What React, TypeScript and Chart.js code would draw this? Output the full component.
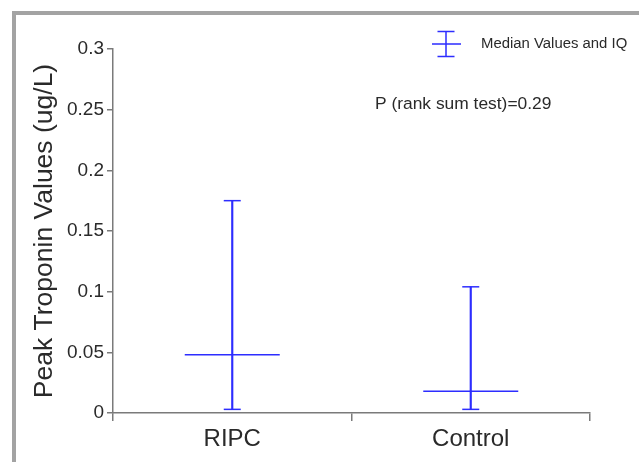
import React, { useEffect, useRef } from "react";
import { Chart, registerables } from "chart.js";

Chart.register(...registerables);

const categories = ["RIPC", "Control"];
const medians = [0.048, 0.018];
const q1Values = [0.003, 0.003];
const q3Values = [0.175, 0.104];
const yTicks = [0, 0.05, 0.1, 0.15, 0.2, 0.25, 0.3];
const legendLabel = "Median Values and IQ";
const pValueText = "P (rank sum test)=0.29";
const yTitle = "Peak Troponin Values (ug/L)";

const BLUE = "rgb(45,45,255)";
const AXIS = "#7a7a7a";
const TEXT = "#2a2a2a";
const FONT = "'Liberation Sans', Arial, Helvetica, sans-serif";

const annotationPlugin = {
  id: "annotations",
  afterDraw(chart: any) {
    const ctx = chart.ctx;
    ctx.save();
    // legend glyph
    ctx.strokeStyle = BLUE;
    ctx.lineWidth = 1.5;
    ctx.beginPath();
    const gx = 446;
    ctx.moveTo(gx, 31.5);
    ctx.lineTo(gx, 56.5);
    ctx.moveTo(gx - 8.5, 31.5);
    ctx.lineTo(gx + 8.5, 31.5);
    ctx.moveTo(gx - 8.5, 56.5);
    ctx.lineTo(gx + 8.5, 56.5);
    ctx.moveTo(gx - 14, 44);
    ctx.lineTo(gx + 15, 44);
    ctx.stroke();
    ctx.fillStyle = TEXT;
    ctx.textBaseline = "middle";
    ctx.textAlign = "left";
    ctx.font = `14.9px ${FONT}`;
    ctx.fillText(legendLabel, 481, 44);
    ctx.font = `17.4px ${FONT}`;
    ctx.fillText(pValueText, 375, 104);
    ctx.restore();
  },
};

export default function App() {
  const canvasRef = useRef<HTMLCanvasElement | null>(null);

  useEffect(() => {
    if (!canvasRef.current) return;
    const chart = new Chart(canvasRef.current, {
      type: "bar",
      data: {
        labels: categories,
        datasets: [
          {
            type: "bar",
            data: q1Values.map((v, i) => [v, q3Values[i]]) as any,
            backgroundColor: BLUE,
            borderWidth: 0,
            barThickness: 1.5,
            grouped: false,
          } as any,
          {
            type: "line",
            data: medians,
            showLine: false,
            pointStyle: "line",
            pointRadius: 47.5,
            pointBorderWidth: 1.5,
            pointBorderColor: BLUE,
            pointBackgroundColor: BLUE,
          } as any,
          {
            type: "line",
            data: q1Values,
            showLine: false,
            pointStyle: "line",
            pointRadius: 8.5,
            pointBorderWidth: 1.5,
            pointBorderColor: BLUE,
            pointBackgroundColor: BLUE,
          } as any,
          {
            type: "line",
            data: q3Values,
            showLine: false,
            pointStyle: "line",
            pointRadius: 8.5,
            pointBorderWidth: 1.5,
            pointBorderColor: BLUE,
            pointBackgroundColor: BLUE,
          } as any,
        ],
      },
      options: {
        animation: false,
        responsive: false,
        maintainAspectRatio: false,
        layout: { padding: { left: 0, top: 47, right: 46, bottom: 0 } },
        plugins: {
          legend: { display: false },
          tooltip: { enabled: false },
        },
        scales: {
          x: {
            type: "category",
            offset: true,
            afterFit: (scale: any) => {
              scale.height = 49;
            },
            border: { display: true, color: AXIS, width: 1.5 },
            grid: {
              offset: true,
              drawOnChartArea: false,
              drawTicks: true,
              tickLength: 8,
              color: AXIS,
              lineWidth: 1.5,
            },
            ticks: {
              color: TEXT,
              padding: 4,
              font: { family: FONT, size: 24 },
            },
          },
          y: {
            type: "linear",
            min: 0,
            max: 0.3,
            afterFit: (scale: any) => {
              scale.width = 113;
            },
            afterBuildTicks: (scale: any) => {
              scale.ticks = yTicks.map((v) => ({ value: v }));
            },
            border: { display: true, color: AXIS, width: 1.5 },
            grid: {
              drawOnChartArea: false,
              drawTicks: true,
              tickLength: 6,
              color: AXIS,
              lineWidth: 1.5,
            },
            ticks: {
              color: TEXT,
              padding: 3,
              font: { family: FONT, size: 19 },
              callback: (v: any) => String(Number(v)),
            },
            title: {
              display: true,
              text: yTitle,
              color: TEXT,
              font: { family: FONT, size: 26.5 },
              padding: { top: 29, bottom: 0 },
            },
          },
        },
      } as any,
      plugins: [annotationPlugin],
    });
    return () => chart.destroy();
  }, []);

  return (
    <div style={{ position: "fixed", left: 0, top: 0, width: 639, height: 462, background: "#fff" }}>
      <div
        style={{
          position: "absolute",
          left: 12,
          top: 11,
          width: 639 - 16,
          height: 462 - 15,
          borderTop: "4px solid #a3a3a3",
          borderLeft: "4px solid #a3a3a3",
        }}
      />
      <canvas
        ref={canvasRef}
        width={639}
        height={462}
        style={{ position: "absolute", left: 0, top: 0, width: 639, height: 462 }}
      />
    </div>
  );
}
